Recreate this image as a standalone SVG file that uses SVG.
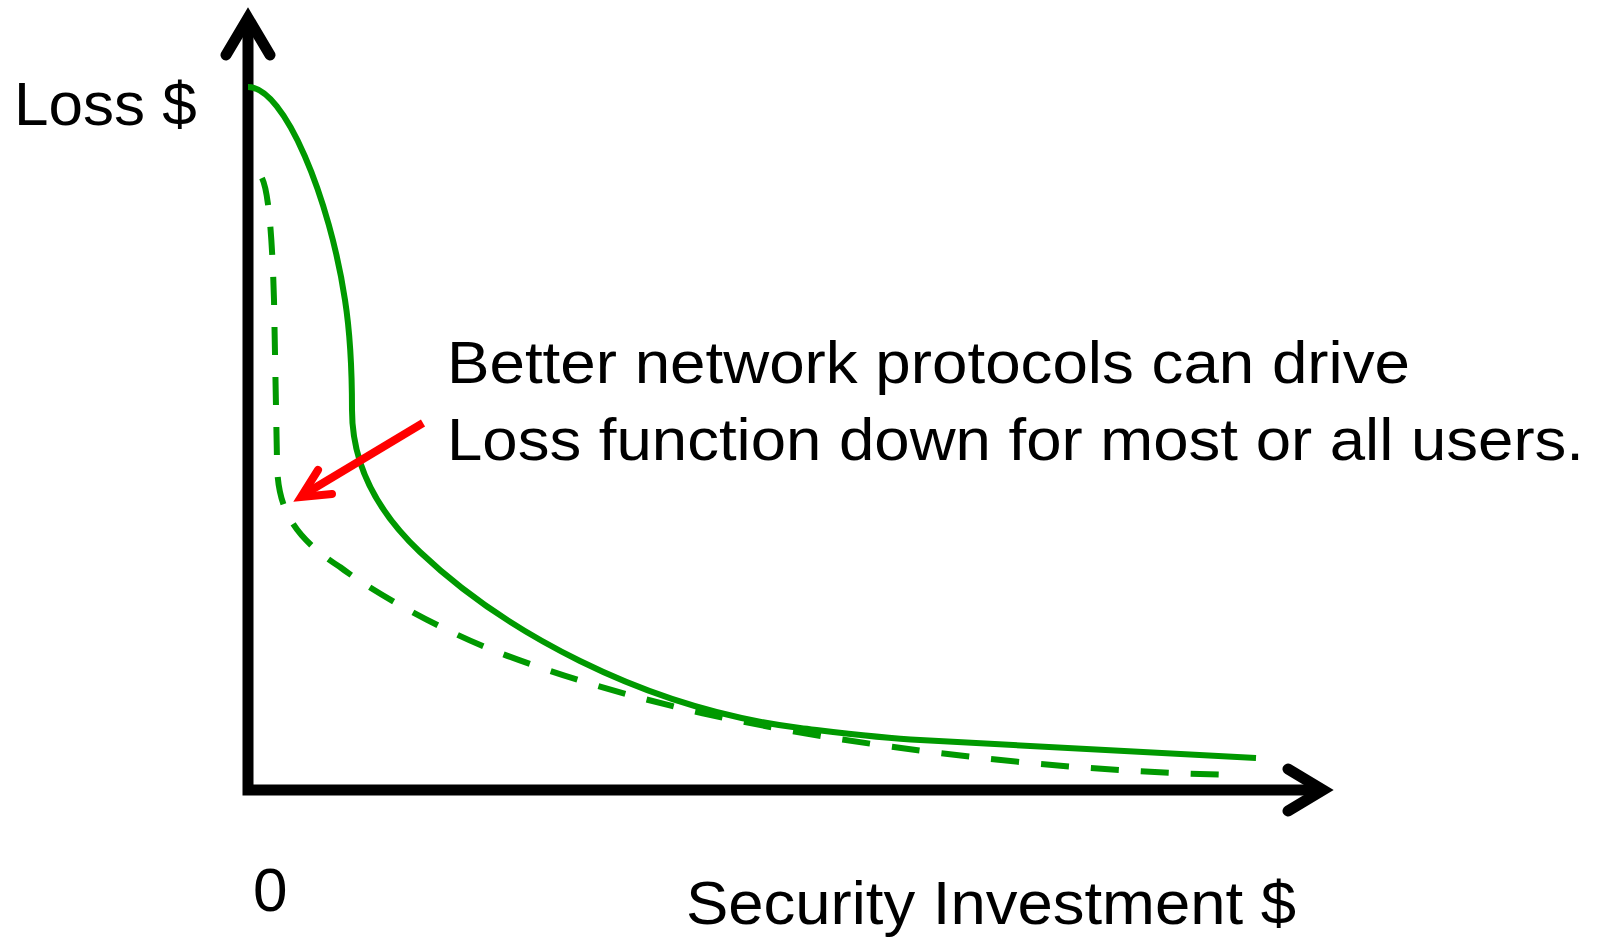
<svg xmlns="http://www.w3.org/2000/svg" width="1600" height="938" viewBox="0 0 1600 938">
<style>
.axis{fill:none;stroke:#000;stroke-width:11;stroke-linejoin:miter}
.head{fill:none;stroke:#000;stroke-width:11;stroke-linecap:round;stroke-linejoin:miter}
.curve{fill:none;stroke:#009900;stroke-width:6}
.dash{stroke-dasharray:28 22}
.red{fill:none;stroke:#ff0000;stroke-width:8;stroke-linejoin:miter}
.t{font-family:"Liberation Sans",Arial,sans-serif;fill:#000}
</style>
<rect width="1600" height="938" fill="#fff"/>
<g id="axes">
<path class="axis" d="M248,20 L248,790 L1322,790"/>
<path class="head" d="M226,55 L248,18 L270,55"/>
<path class="head" d="M1288,769 L1323,790 L1288,811"/>
</g>
<g id="connectors">
<path id="current-loss" class="curve" d="M248,87 C285,87 330,200 345,300 C352,345 352,390 352,410 C352,450 365,500 420,552 C500,628 640,708 800,728 C850,734 880,738 920,740 L1256,758"/>
<path id="improved-loss" class="curve dash" d="M262,178 C268,190 272,230 274,300 L277,460 C277,505 290,535 340,567 C370,590 440,630 500,653 C560,676 640,700 720,717 C800,734 900,750 1020,762 C1100,770 1180,774 1240,775"/>
<g id="pointer">
<path class="red" d="M423,423 L303,495"/>
<path class="red" d="M318,470 L301,497 L332,494" stroke-linecap="round"/>
</g>
</g>
<g id="labels">
<text class="t" x="14" y="125" font-size="62">Loss $</text>
<text class="t" x="253" y="911" font-size="62">0</text>
<text class="t" x="686" y="924" font-size="62" textLength="610" lengthAdjust="spacingAndGlyphs">Security Investment $</text>
<text class="t" x="447" y="383" font-size="60" textLength="963" lengthAdjust="spacingAndGlyphs">Better network protocols can drive</text>
<text class="t" x="447" y="460" font-size="60" textLength="1137" lengthAdjust="spacingAndGlyphs">Loss function down for most or all users.</text>
</g>
</svg>
